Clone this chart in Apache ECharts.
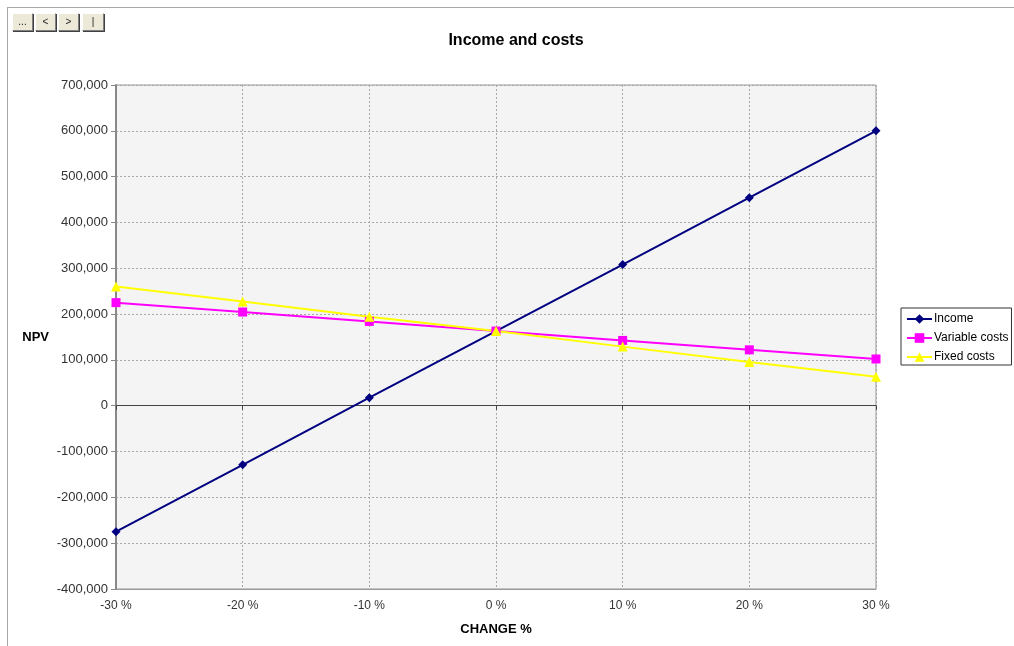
<!DOCTYPE html>
<html>
<head>
<meta charset="utf-8">
<script src="https://cdn.jsdelivr.net/npm/echarts@6/dist/echarts.min.js"></script>
<style>
  html, body { margin: 0; padding: 0; background: #fff; }
  #wrap { position: relative; width: 1014px; height: 646px; overflow: hidden; }
  #chart { position: absolute; left: 0; top: 0; width: 1014px; height: 646px; }
  #frame { position: absolute; left: 7px; top: 7px; width: 1020px; height: 700px;
           border-left: 1px solid #a8a8a8; border-top: 1px solid #a8a8a8; pointer-events: none; }
  .nav { position: absolute; top: 13px; height: 18px; box-sizing: border-box;
         background: #ece9d8; border: 1px solid; border-color: #fff #808080 #808080 #fff;
         box-shadow: 1px 1px 0 #404040; font: 10px "Liberation Sans", Arial, sans-serif;
         color: #222; text-align: center; line-height: 15px; }
</style>
</head>
<body>
<div id="wrap">
  <div id="chart"></div>
  <div id="frame"></div>
  <div class="nav" style="left:12px;width:21px;">...</div>
  <div class="nav" style="left:35px;width:21px;">&lt;</div>
  <div class="nav" style="left:58px;width:21px;">&gt;</div>
  <div class="nav" style="left:82px;width:22px;">|</div>
</div>
<script>
// Sensitivity of NPV to a percentage change in each driver
const changeLabels = ['-30 %', '-20 %', '-10 %', '0 %', '10 %', '20 %', '30 %'];
const income = [-275000, -129000, 17500, 163000, 308000, 454000, 600000];
const variableCosts = [225000, 204500, 184000, 163000, 142500, 122000, 102000];
const fixedCosts = [260000, 227500, 194000, 163000, 129000, 95500, 63000];
const yTicks = { min: -400000, max: 700000, step: 100000 };

const FONT = '"Liberation Sans", Arial, sans-serif';
const chart = echarts.init(document.getElementById('chart'), null, { renderer: 'canvas' });

function lineSeries(name, data, color, symbol, size) {
  return {
    name, type: 'line', data, symbol, symbolSize: size,
    xAxisIndex: 0, yAxisIndex: 0,
    lineStyle: { color, width: 2 },
    itemStyle: { color, borderWidth: 0 },
    emphasis: { disabled: true },
    animation: false
  };
}

chart.setOption({
  backgroundColor: 'transparent',
  animation: false,
  title: {
    text: 'Income and costs',
    left: 511, textAlign: 'center', top: 28,
    textStyle: { fontFamily: FONT, fontSize: 16, fontWeight: 'bold', color: '#000' }
  },
  legend: {
    orient: 'vertical',
    left: 901, top: 308,
    padding: [5, 3, 2, 5],
    itemWidth: 25, itemHeight: 12, itemGap: 7,
    borderColor: '#333', borderWidth: 1,
    textStyle: { fontFamily: FONT, fontSize: 12, lineHeight: 12, color: '#000', padding: [0, 0, 0, -3] },
    data: ['Income', 'Variable costs', 'Fixed costs']
  },
  grid: {
    left: 116, right: 138, top: 85, bottom: 57,
    show: true, backgroundColor: '#f4f4f4', borderColor: '#999', borderWidth: 1
  },
  xAxis: [
    {
      type: 'category', data: changeLabels, boundaryGap: false, position: 'bottom',
      name: 'CHANGE %', nameLocation: 'middle', nameGap: 34,
      nameTextStyle: { fontFamily: FONT, fontSize: 13, fontWeight: 'bold', color: '#000' },
      axisLine: { onZero: false, lineStyle: { color: '#999' } },
      axisTick: { show: false },
      axisLabel: { fontFamily: FONT, fontSize: 12, color: '#333', margin: 11 },
      splitLine: { show: true, lineStyle: { color: '#a8a8a8', type: [2, 2], width: 1 } }
    },
    {
      type: 'category', data: changeLabels, boundaryGap: false, position: 'bottom',
      axisLine: { onZero: true, lineStyle: { color: '#444', width: 1 } },
      axisTick: { show: true, length: 4, lineStyle: { color: '#444' } },
      axisLabel: { show: false },
      splitLine: { show: false }
    }
  ],
  yAxis: {
    type: 'value', min: yTicks.min, max: yTicks.max, interval: yTicks.step,
    name: 'NPV', nameLocation: 'middle', nameGap: 67, nameRotate: 0,
    nameTextStyle: { fontFamily: FONT, fontSize: 13, fontWeight: 'bold', color: '#000' },
    axisLine: { show: true, lineStyle: { color: '#888', width: 2 } },
    axisTick: { show: true, length: 5, lineStyle: { color: '#888' } },
    axisLabel: {
      fontFamily: FONT, fontSize: 13, color: '#333', margin: 8,
      formatter: v => v.toLocaleString('en-US')
    },
    splitLine: { show: true, lineStyle: { color: '#a8a8a8', type: [2, 2], width: 1 } }
  },
  series: [
    lineSeries('Income', income, '#000080', 'diamond', 9),
    lineSeries('Variable costs', variableCosts, '#ff00ff', 'rect', 9),
    lineSeries('Fixed costs', fixedCosts, '#ffff00', 'triangle', 10)
  ]
});
</script>
</body>
</html>
